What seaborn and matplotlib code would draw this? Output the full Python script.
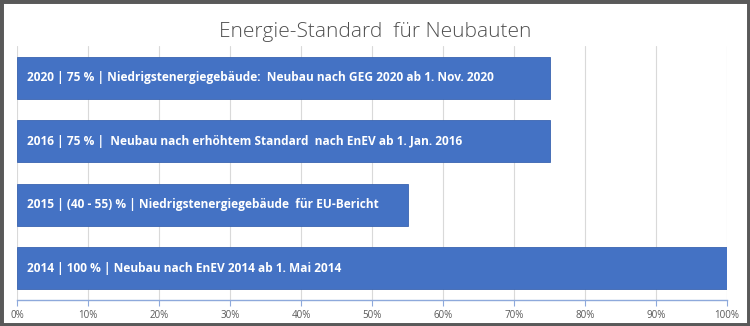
import matplotlib
matplotlib.use("Agg")
import matplotlib.pyplot as plt
from matplotlib.patches import Rectangle
import seaborn as sns
import pandas as pd

title = "Energie-Standard  für Neubauten"
years = ["2020", "2016", "2015", "2014"]
values = [75, 75, 55, 100]
labels = [
    "2020 | 75 % | Niedrigstenergiegebäude:  Neubau nach GEG 2020 ab 1. Nov. 2020",
    "2016 | 75 % |  Neubau nach erhöhtem Standard  nach EnEV ab 1. Jan. 2016",
    "2015 | (40 - 55) % | Niedrigstenergiegebäude  für EU-Bericht",
    "2014 | 100 % | Neubau nach EnEV 2014 ab 1. Mai 2014",
]
xticks = [0, 10, 20, 30, 40, 50, 60, 70, 80, 90, 100]
xticklabels = [f"{t}%" for t in xticks]

df = pd.DataFrame({"year": years, "value": values, "label": labels})

sns.set_theme(style="white")
plt.rcParams["font.family"] = ["Open Sans", "DejaVu Sans"]

fig = plt.figure(figsize=(7.5, 3.26), dpi=100)
ax = fig.add_axes([17 / 750, 1 - 300 / 326, 710 / 750, 254 / 326])

sns.barplot(data=df, y="year", x="value", order=years, orient="h",
            color="#4472C4", saturation=1, width=0.66,
            edgecolor="#3A64B0", linewidth=0.6, ax=ax, zorder=3)

ax.set_xlim(0, 100)
ax.set_ylim(3.5, -0.5)
ax.set_xticks(xticks)
ax.set_xticklabels(xticklabels, fontsize=7, color="#595959")
ax.set_yticks([])
ax.set_xlabel("")
ax.set_ylabel("")
ax.grid(axis="x", color="#D9D9D9", linewidth=0.8, zorder=0)
ax.set_axisbelow(True)
for s in ["top", "right", "left"]:
    ax.spines[s].set_visible(False)
ax.spines["bottom"].set_color("#8EA9DB")
ax.spines["bottom"].set_linewidth(1.0)
ax.tick_params(axis="x", direction="out", length=4, width=0.8,
               color="#8EA9DB", pad=3, bottom=True)

for i, lab in enumerate(labels):
    ax.annotate(lab, xy=(0, i), xytext=(7.5, 0), textcoords="offset points",
                ha="left", va="center", color="white", fontsize=8.6,
                fontweight="bold", zorder=5)

fig.text(0.5, 1 - 32 / 326, title, ha="center", va="center",
         fontsize=15, color="#505050", fontweight="light")

fig.patches.append(Rectangle((0, 0), 1, 1, transform=fig.transFigure,
                             fill=False, edgecolor="#595959", linewidth=5,
                             zorder=10))

fig.savefig("out.png", dpi=100)
